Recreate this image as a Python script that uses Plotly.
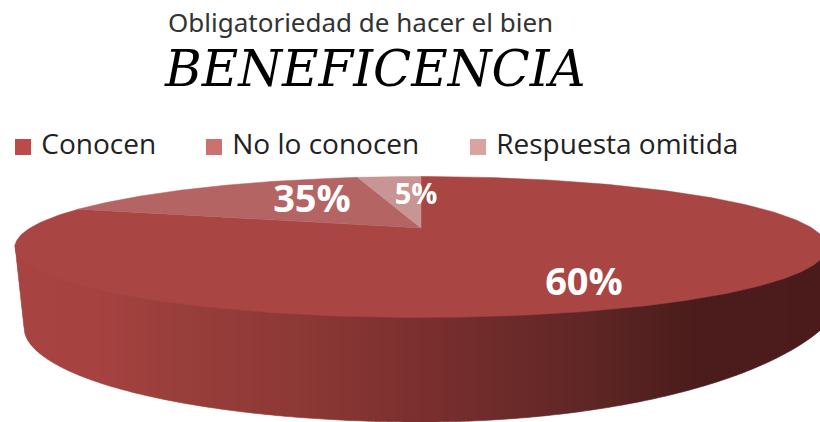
import numpy as np
import plotly.graph_objects as go

categories = ["Conocen", "No lo conocen", "Respuesta omitida"]
# printed labels
pct_labels = [60, 35, 5]
# the drawn slices do not follow the printed labels, so their share of the
# ellipse is read off the picture separately
drawn_share = [84, 13.5, 2.5]

top_colors = ["#a94543", "#b56464", "#c89594"]
legend_colors = ["#bb4a48", "#cb7270", "#d9a3a2"]
label_font = [38, 38, 29]
label_pos = [(584, 285), (312, 202), (416, 197)]
legend_pos = [(23, 147), (214, 147), (478, 147)]

# gradient of the side wall, x pixel -> colour
wall_x = [15, 100, 170, 300, 421, 600, 700, 820]
wall_rgb = [(168, 69, 67), (166, 67, 65), (154, 63, 60), (141, 57, 54),
            (123, 48, 47), (93, 38, 37), (74, 28, 27), (76, 28, 27)]

CX, CY, A, B = 421, 247, 406, 70.5
APEX_Y = 228


def wall_bottom(x):
    # lower outline of the wall, right part is flatter than the left one
    dx = x - CX
    if dx >= 0:
        return 276 + 146 * np.sqrt(1 - (dx / 430) ** 2)
    if x < 24:
        return 245 + (x - 15) * 82 / 9
    return 327 + 95 * np.sqrt(max(0, 1 - (dx / 397) ** 2))


def rim(x):
    return CY + B * np.sqrt(max(0, 1 - ((x - CX) / A) ** 2))


fig = go.Figure()

# side wall, vertical strips between top rim and lower outline
edges = np.concatenate([np.arange(15, 40, 1.0), np.arange(40, 790, 4.0), np.arange(790, 821, 1.0)])
for x0, x1 in zip(edges[:-1], edges[1:]):
    xs = [x0, x1, x1, x0]
    ys = [rim(x0) - 3, rim(x1) - 3, wall_bottom(x1), wall_bottom(x0)]
    rgb = [np.interp((x0 + x1) / 2, wall_x, [c[i] for c in wall_rgb]) for i in range(3)]
    col = "rgb(%d,%d,%d)" % tuple(rgb)
    fig.add_trace(go.Scatter(x=xs, y=ys, mode="lines", fill="toself", fillcolor=col,
                             line=dict(color=col, width=0.6), hoverinfo="skip", showlegend=False))

# top face
start = 0
for name, share, col in zip(categories, drawn_share, top_colors):
    end = start + share * 3.6
    phi = np.radians(np.linspace(start, end, 300))
    xs = [CX] + list(CX + A * np.sin(phi)) + [CX]
    ys = [APEX_Y] + list(CY - B * np.cos(phi)) + [APEX_Y]
    fig.add_trace(go.Scatter(x=xs, y=ys, mode="lines", fill="toself", fillcolor=col,
                             line=dict(color=col, width=0.5), name=name, hoverinfo="name", showlegend=False))
    start = end

# data labels
for val, pos, size in zip(pct_labels, label_pos, label_font):
    fig.add_trace(go.Scatter(x=[pos[0]], y=[pos[1]], mode="text", text=[f"{val}%"], textposition="middle center",
                             textfont=dict(family="Open Sans", size=size, color="white", weight="bold"),
                             hoverinfo="skip", showlegend=False))

# legend
for name, pos, col in zip(categories, legend_pos, legend_colors):
    fig.add_trace(go.Scatter(x=[pos[0]], y=[pos[1]], mode="markers+text", text=["\u00a0" + name],
                             textposition="middle right", marker=dict(symbol="square", size=16, color=col),
                             textfont=dict(family="Open Sans", size=28, color="#222222"),
                             hoverinfo="skip", showlegend=False))

fig.add_annotation(x=360, y=22, text="Obligatoriedad de hacer el bien", showarrow=False,
                   font=dict(family="Noto Sans", size=26, color="#333333"))
fig.add_annotation(x=375, y=69, text="<i>BENEFICENCIA</i>", showarrow=False,
                   font=dict(family="DejaVu Serif", size=50, color="black"))

fig.update_layout(
    width=820,
    height=422,
    margin=dict(l=0, r=0, t=0, b=0),
    paper_bgcolor="white",
    plot_bgcolor="white",
    showlegend=False,
    xaxis=dict(range=[0, 820], visible=False, fixedrange=True),
    yaxis=dict(range=[422, 0], visible=False, fixedrange=True),
)

fig.write_html("out.html", config={"displayModeBar": False}, post_script="document.body.style.margin='0'")
